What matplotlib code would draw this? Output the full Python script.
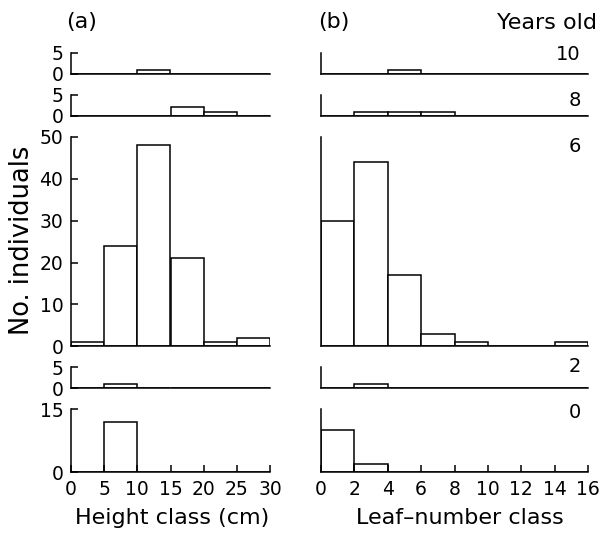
import matplotlib
matplotlib.use("Agg")
import matplotlib.pyplot as plt

# Data
ages = ["10", "8", "6", "2", "0"]
height_edges = [0, 5, 10, 15, 20, 25]          # left edges, width 5
leaf_edges = [0, 2, 4, 6, 8, 10, 12, 14]       # left edges, width 2

height_10 = [0, 0, 1, 0, 0, 0]
height_8 = [0, 0, 0, 2, 1, 0]
height_6 = [1, 24, 48, 21, 1, 2]
height_2 = [0, 1, 0, 0, 0, 0]
height_0 = [0, 12, 0, 0, 0, 0]

leaf_10 = [0, 0, 1, 0, 0, 0, 0, 0]
leaf_8 = [0, 1, 1, 1, 0, 0, 0, 0]
leaf_6 = [30, 44, 17, 3, 1, 0, 0, 1]
leaf_2 = [0, 1, 0, 0, 0, 0, 0, 0]
leaf_0 = [10, 2, 0, 0, 0, 0, 0, 0]

height_rows = [height_10, height_8, height_6, height_2, height_0]
leaf_rows = [leaf_10, leaf_8, leaf_6, leaf_2, leaf_0]
ymax = [5, 5, 50, 5, 15]
left_yticks = [[0, 5], [0, 5], [0, 10, 20, 30, 40, 50], [0, 5], [0, 15]]
height_xticks = [0, 5, 10, 15, 20, 25, 30]
leaf_xticks = [0, 2, 4, 6, 8, 10, 12, 14, 16]

plt.rcParams['font.family'] = ['DejaVu Sans']
FS_TICK = 13.5
FS_LAB = 16
FS_AGE = 14

W, H = 600, 533
fig = plt.figure(figsize=(W / 100, H / 100), dpi=100)

top_px = 53
bottom_px = 472
gap_units = 5
total_units = sum(ymax) + gap_units * (len(ymax) - 1)
ppu = (bottom_px - top_px) / total_units

lx0, lx1 = 71, 270
rx0, rx1 = 321, 588

y = top_px
for i in range(len(ymax)):
    hpx = ymax[i] * ppu
    ybot = y + hpx
    for side in range(2):
        x0, x1 = (lx0, lx1) if side == 0 else (rx0, rx1)
        ax = fig.add_axes([x0 / W, 1 - ybot / H, (x1 - x0) / W, hpx / H])
        if side == 0:
            ax.bar(height_edges, height_rows[i], width=5, align='edge',
                   facecolor='white', edgecolor='black', linewidth=1.1)
            ax.set_xlim(0, 30)
            ax.set_yticks(left_yticks[i])
            ax.tick_params(axis='y', direction='in', length=5, width=1.1,
                           labelsize=FS_TICK, pad=5.5)
        else:
            ax.bar(leaf_edges, leaf_rows[i], width=2, align='edge',
                   facecolor='white', edgecolor='black', linewidth=1.1)
            ax.set_xlim(0, 16)
            ax.set_yticks([])
        ax.set_ylim(0, ymax[i])
        for s in ['top', 'right']:
            ax.spines[s].set_visible(False)
        for s in ['left', 'bottom']:
            ax.spines[s].set_linewidth(1.1)
        if i == len(ymax) - 1:
            ax.set_xticks(height_xticks if side == 0 else leaf_xticks)
            ax.tick_params(axis='x', direction='in', length=5, width=1.1,
                           labelsize=FS_TICK, pad=6)
        else:
            ax.set_xticks([])
    y = ybot + gap_units * ppu

# Age labels on right panels
age_label_y = [54, 100, 146, 367, 412]
for lab, yy in zip(ages, age_label_y):
    fig.text(581 / W, 1 - yy / H, lab, ha='right', va='center', fontsize=FS_AGE)

fig.text(597 / W, 1 - 23 / H, "Years old", ha='right', va='center', fontsize=FS_LAB)
fig.text(82 / W, 1 - 22 / H, "(a)", ha='center', va='center', fontsize=FS_LAB)
fig.text(334 / W, 1 - 22 / H, "(b)", ha='center', va='center', fontsize=FS_LAB)
fig.text(22 / W, 1 - 240 / H, "No. individuals", rotation=90, ha='center',
         va='center', fontsize=18.5)
fig.text(172 / W, 1 - 518 / H, "Height class (cm)", ha='center', va='center',
         fontsize=FS_LAB)
fig.text(460 / W, 1 - 518 / H, "Leaf\u2013number class", ha='center', va='center',
         fontsize=FS_LAB)

fig.savefig("out.png", dpi=100)
